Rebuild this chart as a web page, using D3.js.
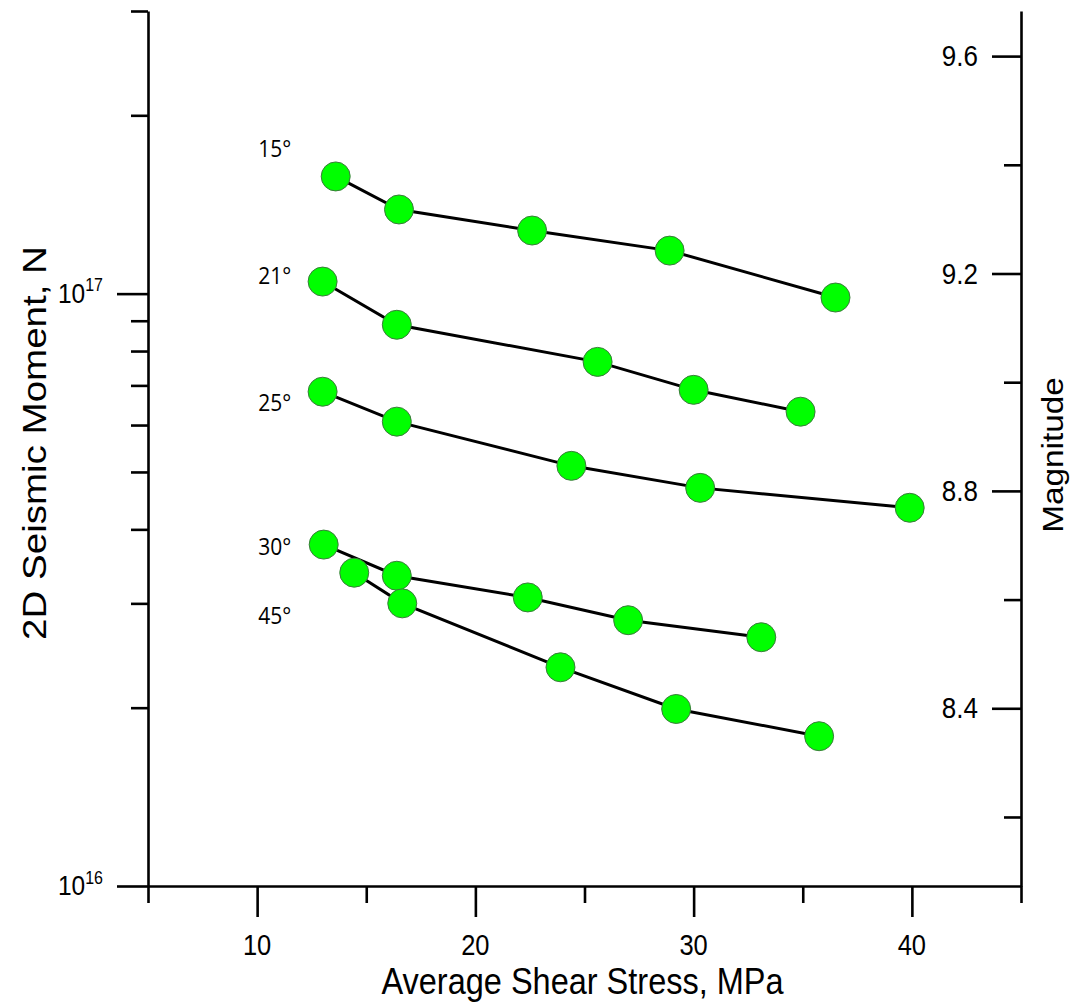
<!DOCTYPE html>
<html>
<head>
<meta charset="utf-8">
<script src="https://cdn.jsdelivr.net/npm/d3@7"></script>
<style>
  html, body { margin: 0; padding: 0; background: #fff; }
  svg { display: block; }
</style>
</head>
<body>
<svg id="chart" width="1074" height="1002"></svg>
<script>
// ---- Data ----
const seriesLabels = ["15°", "21°", "25°", "30°", "45°"];
const stress15 = [13.6, 16.5, 22.6, 28.9, 36.5];
const moment15 = [1.577e17, 1.387e17, 1.278e17, 1.182e17, 9.85e16];
const stress21 = [13.0, 16.4, 25.6, 30.0, 34.9];
const moment21 = [1.048e17, 8.86e16, 7.67e16, 6.88e16, 6.32e16];
const stress25 = [13.0, 16.4, 24.4, 30.3, 39.9];
const moment25 = [6.83e16, 6.08e16, 5.12e16, 4.70e16, 4.35e16];
const stress30 = [13.05, 16.4, 22.4, 27.0, 33.1];
const moment30 = [3.77e16, 3.34e16, 3.07e16, 2.81e16, 2.63e16];
const stress45 = [14.45, 16.65, 23.9, 29.2, 35.75];
const moment45 = [3.38e16, 3.00e16, 2.34e16, 1.99e16, 1.79e16];

const xDomain = [5, 45];
const xMajorTicks = [10, 20, 30, 40];
const xMinorTicks = [5, 15, 25, 35, 45];
const yDomain = [1e16, 3e17];
const yMajorTicks = [1e16, 1e17];
const yMinorTicks = [2e16, 3e16, 4e16, 5e16, 6e16, 7e16, 8e16, 9e16, 2e17, 3e17];
const magDomain = [8.073, 9.683];
const magMajorTicks = [8.4, 8.8, 9.2, 9.6];
const magMinorTicks = [8.2, 8.6, 9.0, 9.4];

const xTitle = "Average Shear Stress, MPa";
const yTitle = "2D Seismic Moment, N";
const magTitle = "Magnitude";

const series = [
  { label: seriesLabels[0], x: stress15, y: moment15 },
  { label: seriesLabels[1], x: stress21, y: moment21 },
  { label: seriesLabels[2], x: stress25, y: moment25 },
  { label: seriesLabels[3], x: stress30, y: moment30 },
  { label: seriesLabels[4], x: stress45, y: moment45 }
];
// where each angle label sits (stress, moment)
const labelMoments = [1.75e17, 1.065e17, 6.5e16, 3.72e16, 2.84e16];
const labelStress = 10.05;

// ---- Layout ----
const pLeft = 148, pRight = 1021, pTop = 11, pBottom = 886;
const stretch = 1.15; // vertical stretch of the reference's glyphs
const svg = d3.select("#chart");
const x = d3.scaleLinear().domain(xDomain).range([pLeft, pRight]);
const y = d3.scaleLog().domain(yDomain).range([pBottom, pTop]);
const m = d3.scaleLinear().domain(magDomain).range([pBottom, pTop]);

const axisFont = "'Liberation Sans', Arial, sans-serif";
const strokeW = 2.6;

// helper: horizontal text stretched vertically around (tx, ty)
function hText(tx, ty, txt, size, anchor, family) {
  return svg.append("text")
    .attr("transform", `translate(${tx},${ty}) scale(1,${stretch})`)
    .attr("text-anchor", anchor || "middle")
    .attr("font-family", family || axisFont)
    .attr("font-size", size + "px")
    .attr("fill", "#000")
    .text(txt);
}

// X axis (major + minor ticks pointing down)
const gx = svg.append("g").attr("transform", `translate(0,${pBottom})`);
gx.call(d3.axisBottom(x).tickValues(xMajorTicks).tickSize(31).tickSizeOuter(0).tickFormat(""));
const gxMinor = svg.append("g").attr("transform", `translate(0,${pBottom})`);
gxMinor.call(d3.axisBottom(x).tickValues(xMinorTicks).tickSize(17).tickSizeOuter(0).tickFormat(""));
gxMinor.select(".domain").remove();
xMajorTicks.forEach(v => hText(x(v), 955, d3.format("d")(v), 25.5));

// Left Y axis (log)
const gy = svg.append("g").attr("transform", `translate(${pLeft},0)`);
gy.call(d3.axisLeft(y).tickValues(yMajorTicks).tickSize(31).tickSizeOuter(0).tickFormat(""));
const gyMinor = svg.append("g").attr("transform", `translate(${pLeft},0)`);
gyMinor.call(d3.axisLeft(y).tickValues(yMinorTicks).tickSize(17).tickSizeOuter(0).tickFormat(""));
gyMinor.select(".domain").remove();
yMajorTicks.forEach(v => {
  const t = hText(103, y(v) + 9, "", 24.5, "end");
  t.append("tspan").text("10");
  t.append("tspan").attr("dy", "-0.62em").attr("font-size", "16px").text(Math.round(Math.log10(v)));
});

// Right magnitude axis (ticks and labels inside)
const gm = svg.append("g").attr("transform", `translate(${pRight},0)`);
gm.call(d3.axisLeft(m).tickValues(magMajorTicks).tickSize(29).tickSizeOuter(0).tickFormat(""));
const gmMinor = svg.append("g").attr("transform", `translate(${pRight},0)`);
gmMinor.call(d3.axisLeft(m).tickValues(magMinorTicks).tickSize(17).tickSizeOuter(0).tickFormat(""));
gmMinor.select(".domain").remove();
magMajorTicks.forEach(v => hText(978, m(v) + 10, d3.format(".1f")(v), 26, "end"));

// axis styling
svg.selectAll(".domain, .tick line").attr("stroke", "#000").attr("stroke-width", strokeW);

// Axis titles
hText((pLeft + pRight) / 2 - 2, 994, xTitle, 32.5);
svg.append("text")
  .attr("transform", `translate(46,${443}) rotate(-90) scale(${stretch},1)`)
  .attr("text-anchor", "middle")
  .attr("font-family", axisFont).attr("font-size", "33.5px")
  .text(yTitle);
svg.append("text")
  .attr("transform", `translate(1063,${455}) rotate(-90) scale(${stretch},1)`)
  .attr("text-anchor", "middle")
  .attr("font-family", axisFont).attr("font-size", "29px")
  .text(magTitle);

// Lines and markers
const line = d3.line().x(d => x(d[0])).y(d => y(d[1]));
series.forEach((s) => {
  const pts = s.x.map((v, j) => [v, s.y[j]]);
  svg.append("path").datum(pts)
    .attr("d", line)
    .attr("fill", "none").attr("stroke", "#000").attr("stroke-width", 3);
});
series.forEach((s, i) => {
  const pts = s.x.map((v, j) => [v, s.y[j]]);
  svg.selectAll(null).data(pts).enter().append("circle")
    .attr("cx", d => x(d[0])).attr("cy", d => y(d[1])).attr("r", 14.5)
    .attr("fill", "#00ff00").attr("stroke", "#3c7a3c").attr("stroke-width", 1);
  hText(x(labelStress), y(labelMoments[i]) + 7, s.label, 21, "start", "'Open Sans', 'Noto Sans', sans-serif");
});
</script>
</body>
</html>
